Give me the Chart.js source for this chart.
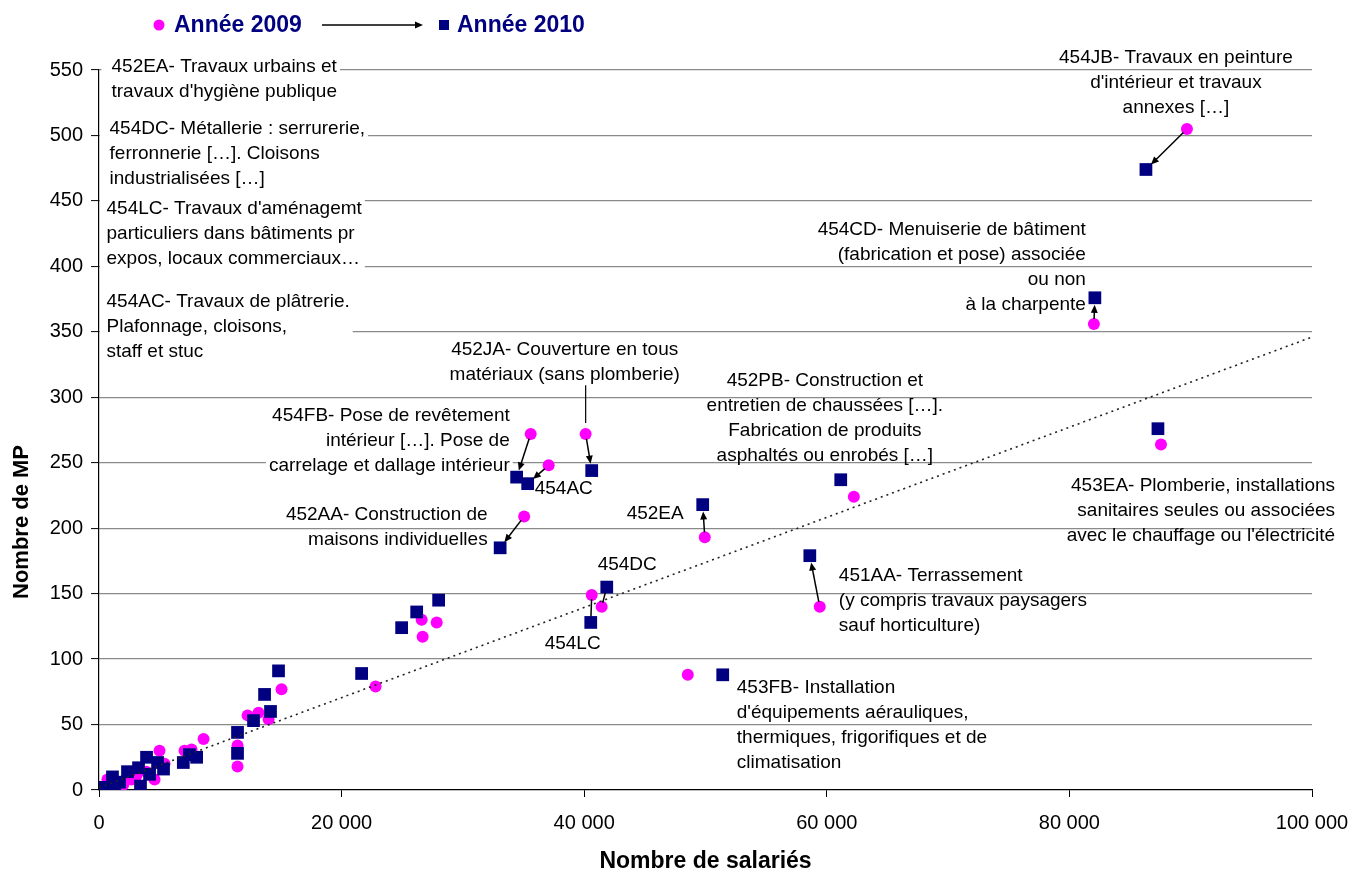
<!DOCTYPE html>
<html lang="fr">
<head>
<meta charset="utf-8">
<title>Nombre de MP selon le nombre de salariés</title>
<script src="https://cdn.jsdelivr.net/npm/chart.js@4.4.1/dist/chart.umd.min.js"></script>
<style>
  html, body { margin: 0; padding: 0; background: #fff; }
  #wrap { width: 1357px; height: 875px; }
</style>
</head>
<body>
<div id="wrap"><canvas id="chart" width="1357" height="875"></canvas></div>
<script>
// -- data ----------------------------------------------------------------
// labelled sectors come first, in the same order for both years
const sectors = ["454JB", "454CD", "453EA", "452PB", "451AA", "452EA", "453FB",
                 "452JA", "454FB", "454AC", "452AA", "454DC", "454LC"];
const links = ["arrow", "arrow", null, null, "arrow", "arrow", null,
               "arrow", "arrow", "arrow", "arrow", "line", "line"];

const salaries2009 = [89690, 82020, 87550, 62230, 59420, 49940, 48540,
                      40120, 35590, 37070, 35050, 41440, 40620,
                      26600, 27840, 26680, 22800, 15050, 12250, 13150, 13980,
                      11420, 11420, 8620, 4990, 7050, 7630, 4580, 3090, 700,
                      2680, 5400, 1110, 3900, 2000];
const mp2009 = [505, 356, 264, 224, 140, 193, 88,
                272, 272, 248, 209, 140, 149,
                130, 128, 117, 79, 77, 57, 59, 54,
                34, 18, 39, 30, 30, 31, 8, 11, 8,
                8, 20, 6, 14, 4];

const salaries2010 = [86310, 82100, 87300, 61150, 58600, 49770, 51420,
                      40620, 34430, 35340, 33070, 41860, 40540,
                      28000, 26190, 24950, 21650, 14800, 13650, 14140, 12740,
                      11420, 11420, 3920, 4830, 5320, 3260, 4170, 3420, 2350,
                      1110, 1690, 450, 1280, 6950, 8050, 7450];
const mp2010 = [474, 376, 276, 237, 179, 218, 88,
                244, 239, 234, 185, 155, 128,
                145, 136, 124, 89, 91, 73, 60, 53,
                44, 28, 25, 21, 16, 17, 12, 3, 14,
                10, 6, 2, 2, 21, 25, 27];

const trendX = [0, 100000];
const trendY = [1.7, 346];

const xTicks = [0, 20000, 40000, 60000, 80000, 100000];
const yTicks = [0, 50, 100, 150, 200, 250, 300, 350, 400, 450, 500, 550];

// -- text boxes (anchored in data units) ----------------------------------
const notes = [
  { text: ["452EA- Travaux urbains et", "travaux d'hygiène publique"], x: 1030, y: 553.4, align: "left", box: true },
  { text: ["454DC- Métallerie : serrurerie,", "ferronnerie […]. Cloisons", "industrialisées […]"], x: 870, y: 506, align: "left", box: true },
  { text: ["454LC- Travaux d'aménagemt", "particuliers dans bâtiments pr", "expos, locaux commerciaux…"], x: 620, y: 445, align: "left", box: true },
  { text: ["454AC- Travaux de plâtrerie.", "Plafonnage, cloisons,", "staff et stuc"], x: 620, y: 374, align: "left", box: true },
  { text: ["454JB- Travaux en peinture", "d'intérieur et travaux", "annexes […]"], x: 88780, y: 560.3, align: "center" },
  { text: ["454CD- Menuiserie de bâtiment", "(fabrication et pose) associée", "ou non", "à la charpente"], x: 81360, y: 429, align: "right" },
  { text: ["452PB- Construction et", "entretien de chaussées […].", "Fabrication de produits", "asphaltés ou enrobés […]"], x: 59840, y: 313.7, align: "center" },
  { text: ["452JA- Couverture en tous", "matériaux (sans plomberie)"], x: 38390, y: 337.4, align: "center", leader: 7 },
  { text: ["454FB- Pose de revêtement", "intérieur […]. Pose de", "carrelage et dallage intérieur"], x: 33860, y: 286.3, align: "right", box: true },
  { text: ["454AC"], x: 35920, y: 230.5, align: "left" },
  { text: ["452AA- Construction de", "maisons individuelles"], x: 32040, y: 210.7, align: "right" },
  { text: ["452EA"], x: 43500, y: 211.5, align: "left" },
  { text: ["454DC"], x: 41110, y: 172.5, align: "left" },
  { text: ["454LC"], x: 36740, y: 112.2, align: "left" },
  { text: ["451AA- Terrassement", "(y compris travaux paysagers", "sauf horticulture)"], x: 60990, y: 164.1, align: "left" },
  { text: ["453FB- Installation", "d'équipements aérauliques,", "thermiques, frigorifiques et de", "climatisation"], x: 52580, y: 78.6, align: "left" },
  { text: ["453EA- Plomberie, installations", "sanitaires seules ou associées", "avec le chauffage ou l'électricité"], x: 101900, y: 232.8, align: "right" },
];

const FONT = "'Liberation Sans', Arial, sans-serif";
const NAVY = "#000080";
const MAGENTA = "#ff00ff";
const LINE_H = 25;

const toPoints = (xs, ys) => xs.map((x, i) => ({ x, y: ys[i] }));
const fmt = (v) => String(v).replace(/\B(?=(\d{3})+(?!\d))/g, "\u00a0");

function arrow(ctx, x1, y1, x2, y2, head) {
  const a = Math.atan2(y2 - y1, x2 - x1);
  ctx.beginPath();
  ctx.moveTo(x1, y1);
  ctx.lineTo(x2 - (head ? 4 * Math.cos(a) : 0), y2 - (head ? 4 * Math.sin(a) : 0));
  ctx.stroke();
  if (!head) return;
  const L = 8, W = 3.5;
  ctx.beginPath();
  ctx.moveTo(x2, y2);
  ctx.lineTo(x2 - L * Math.cos(a) + W * Math.sin(a), y2 - L * Math.sin(a) - W * Math.cos(a));
  ctx.lineTo(x2 - L * Math.cos(a) - W * Math.sin(a), y2 - L * Math.sin(a) + W * Math.cos(a));
  ctx.closePath();
  ctx.fill();
}

// -- custom drawing: notes, arrows, legend, axis titles --------------------
const decor = {
  id: "decor",
  beforeDatasetsDraw(chart) {
    const { ctx, chartArea, scales: { x, y } } = chart;
    ctx.save();
    ctx.font = `19px ${FONT}`;
    ctx.textBaseline = "middle";
    for (const n of notes) {
      const px = x.getPixelForValue(n.x);
      const py = y.getPixelForValue(n.y);
      const w = Math.max(...n.text.map((t) => ctx.measureText(t).width));
      if (n.box) {
        let left = n.align === "left" ? px - 10 : n.align === "right" ? px - w - 3 : px - w / 2 - 3;
        const right = n.align === "left" ? px + w + 3 : n.align === "right" ? px + 3 : px + w / 2 + 3;
        left = Math.max(left, chartArea.left + 1);
        ctx.fillStyle = "#fff";
        ctx.fillRect(left, py - 14, right - left, (n.text.length - 1) * LINE_H + 28);
      }
      ctx.fillStyle = "#000";
      ctx.textAlign = n.align;
      n.text.forEach((t, i) => ctx.fillText(t, px, py + i * LINE_H + 1));
      if (n.leader != null) {
        const lx = x.getPixelForValue(salaries2009[n.leader]);
        const ly = y.getPixelForValue(mp2009[n.leader]);
        ctx.strokeStyle = "#000";
        ctx.lineWidth = 1.2;
        ctx.beginPath();
        ctx.moveTo(lx, py + (n.text.length - 1) * LINE_H + 12);
        ctx.lineTo(lx, ly - 11);
        ctx.stroke();
      }
    }
    ctx.restore();
  },
  afterDatasetsDraw(chart) {
    const { ctx, scales: { x, y } } = chart;
    ctx.save();
    ctx.strokeStyle = "#000";
    ctx.fillStyle = "#000";
    ctx.lineWidth = 1.5;
    links.forEach((kind, i) => {
      if (!kind) return;
      const x1 = x.getPixelForValue(salaries2009[i]), y1 = y.getPixelForValue(mp2009[i]);
      const x2 = x.getPixelForValue(salaries2010[i]), y2 = y.getPixelForValue(mp2010[i]);
      const d = Math.hypot(x2 - x1, y2 - y1);
      const ux = (x2 - x1) / d, uy = (y2 - y1) / d;
      const s = kind === "arrow" ? 5 : 4, e = kind === "arrow" ? 7 : 6;
      arrow(ctx, x1 + ux * s, y1 + uy * s, x2 - ux * e, y2 - uy * e, kind === "arrow");
    });

    // legend
    ctx.font = `bold 23px ${FONT}`;
    ctx.textBaseline = "middle";
    ctx.textAlign = "left";
    ctx.fillStyle = MAGENTA;
    ctx.beginPath();
    ctx.arc(159, 25, 5.5, 0, Math.PI * 2);
    ctx.fill();
    ctx.fillStyle = NAVY;
    ctx.fillText("Année 2009", 174, 26);
    ctx.fillStyle = "#000";
    arrow(ctx, 322, 25, 423, 25, true);
    ctx.fillStyle = NAVY;
    ctx.fillRect(439, 20, 10, 10);
    ctx.fillText("Année 2010", 457, 26);

    // axis titles
    ctx.fillStyle = "#000";
    ctx.font = `bold 23px ${FONT}`;
    ctx.textAlign = "center";
    ctx.fillText("Nombre de salariés", (x.left + x.right) / 2, 862);
    ctx.font = `bold 22px ${FONT}`;
    ctx.translate(22, 522);
    ctx.rotate(-Math.PI / 2);
    ctx.fillText("Nombre de MP", 0, 0);
    ctx.restore();
  },
};

// -- chart -----------------------------------------------------------------
Chart.defaults.font.family = FONT;
Chart.defaults.color = "#000";

new Chart(document.getElementById("chart"), {
  type: "scatter",
  data: {
    datasets: [
      {
        label: "Tendance",
        data: toPoints(trendX, trendY),
        showLine: true,
        borderColor: "#222",
        borderWidth: 1.6,
        borderDash: [2, 4],
        pointRadius: 0,
        order: 0,
      },
      {
        label: "Année 2010",
        data: toPoints(salaries2010, mp2010),
        pointStyle: "rect",
        pointRadius: 9,
        backgroundColor: NAVY,
        borderWidth: 0,
        order: 1,
      },
      {
        label: "Année 2009",
        data: toPoints(salaries2009, mp2009),
        pointStyle: "circle",
        pointRadius: 6,
        backgroundColor: MAGENTA,
        borderWidth: 0,
        order: 2,
      },
    ],
  },
  options: {
    responsive: false,
    animation: false,
    devicePixelRatio: 1,
    layout: { padding: { top: 70, right: 45, bottom: 0, left: 0 } },
    plugins: { legend: { display: false }, tooltip: { enabled: false } },
    scales: {
      x: {
        type: "linear",
        min: 0,
        max: 100000,
        afterBuildTicks: (s) => { s.ticks = xTicks.map((v) => ({ value: v })); },
        afterFit: (s) => { s.height = 85; s.paddingLeft = 0; s.paddingRight = 0; },
        ticks: { font: { size: 20 }, padding: 14, maxRotation: 0, callback: (v) => fmt(v) },
        grid: { drawOnChartArea: false, tickLength: 7, tickColor: "#000", tickWidth: 1 },
        border: { color: "#000", width: 1.2 },
      },
      y: {
        type: "linear",
        min: 0,
        max: 550,
        afterBuildTicks: (s) => { s.ticks = yTicks.map((v) => ({ value: v })); },
        afterFit: (s) => { s.width = 99; s.paddingTop = 0; s.paddingBottom = 0; },
        ticks: { font: { size: 20 }, padding: 8 },
        grid: {
          color: (c) => (c.tick && c.tick.value === 0 ? "rgba(0,0,0,0)" : "#8a8a8a"),
          lineWidth: 1.2,
          tickLength: 8,
          tickColor: "#000",
          tickWidth: 1,
        },
        border: { color: "#000", width: 1.2 },
      },
    },
  },
  plugins: [decor],
});
</script>
</body>
</html>
